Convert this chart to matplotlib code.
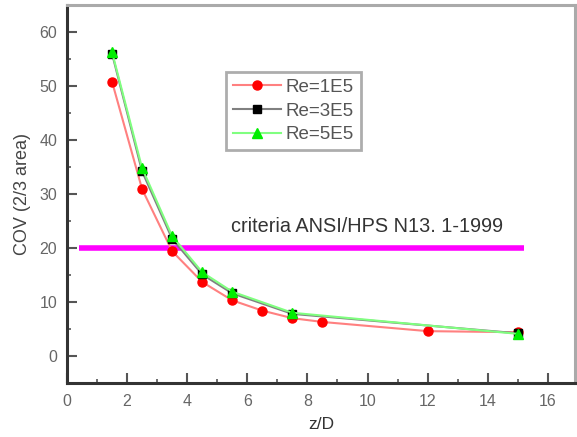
import matplotlib
matplotlib.use("Agg")
import matplotlib.pyplot as plt
from matplotlib.ticker import MultipleLocator

plt.rcParams['font.family'] = ['Liberation Sans', 'DejaVu Sans']

x_1e5 = [1.5, 2.5, 3.5, 4.5, 5.5, 6.5, 7.5, 8.5, 12, 15]
y_1e5 = [50.8, 30.9, 19.4, 13.7, 10.3, 8.4, 7.0, 6.3, 4.6, 4.4]
x_3e5 = [1.5, 2.5, 3.5, 4.5, 5.5, 7.5, 15]
y_3e5 = [56.0, 34.2, 21.7, 15.1, 11.6, 7.8, 4.2]
x_5e5 = [1.5, 2.5, 3.5, 4.5, 5.5, 7.5, 15]
y_5e5 = [56.3, 34.8, 22.2, 15.5, 11.9, 8.0, 4.1]
labels = ["Re=1E5", "Re=3E5", "Re=5E5"]
criteria_value = 20
criteria_range = [0.4, 15.2]
criteria_text = "criteria ANSI/HPS N13. 1-1999"

fig = plt.figure(figsize=(5.77, 4.37), dpi=100)
ax = fig.add_axes([0.116, 0.1236, 0.8805, 0.865])

ax.plot(x_1e5, y_1e5, color='#ff8080', lw=1.5, marker='o', ms=6.5,
        mfc='#ff0000', mec='#ff0000', label=labels[0], zorder=3)
ax.plot(x_3e5, y_3e5, color='#808080', lw=1.5, marker='s', ms=5.5,
        mfc='#000000', mec='#000000', label=labels[1], zorder=4)
ax.plot(x_5e5, y_5e5, color='#80ff80', lw=1.5, marker='^', ms=7,
        mfc='#00ee00', mec='#00ee00', label=labels[2], zorder=5)

ax.plot(criteria_range, [criteria_value, criteria_value], color='#ff00ff', lw=4, zorder=2,
        solid_capstyle='butt')
ax.text(5.45, 23.0, criteria_text, fontsize=14.3, color='#333333')

ax.set_xlim(0, 16.9)
ax.set_ylim(-5, 65)
ax.xaxis.set_major_locator(MultipleLocator(2))
ax.xaxis.set_minor_locator(MultipleLocator(1))
ax.yaxis.set_major_locator(MultipleLocator(10))
ax.yaxis.set_minor_locator(MultipleLocator(5))
ax.tick_params(which='major', direction='in', length=7, width=1.5, color='#555555',
               labelsize=11.5, labelcolor='#666666')
ax.tick_params(which='minor', direction='in', length=3, width=1.2, color='#555555')
ax.tick_params(axis='x', pad=8)
ax.tick_params(axis='y', pad=7)

for s in ['left', 'bottom']:
    ax.spines[s].set_color('#333333')
    ax.spines[s].set_linewidth(2.2)
for s in ['top', 'right']:
    ax.spines[s].set_color('#aaaaaa')
    ax.spines[s].set_linewidth(2.2)

ax.set_xlabel("z/D", fontsize=12.5, color='#333333', labelpad=6)
ax.set_ylabel("COV (2/3 area)", fontsize=13, color='#444444', labelpad=6)

leg = ax.legend(loc='upper left', bbox_to_anchor=(0.313, 0.822), fontsize=13.5,
                frameon=True, fancybox=False, handlelength=2.6, borderpad=0.35,
                labelspacing=0.35, handletextpad=0.25, borderaxespad=0)
leg.get_frame().set_edgecolor('#999999')
leg.get_frame().set_linewidth(2)
for t in leg.get_texts():
    t.set_color('#555555')

fig.savefig("out.png", dpi=100)
